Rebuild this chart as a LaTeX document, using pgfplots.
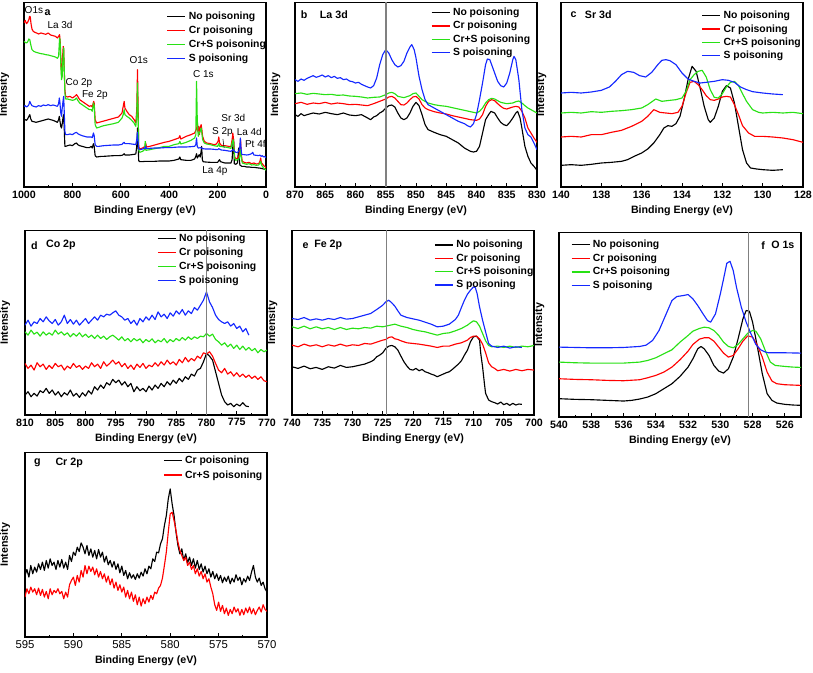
\documentclass[border=0pt]{standalone}
\usepackage{pgfplots}
\pgfplotsset{compat=1.18}
\usepackage{fontspec}
\setmainfont{Liberation Sans}
\definecolor{cblack}{RGB}{0,0,0}
\definecolor{cred}{RGB}{255,0,0}
\definecolor{cgreen}{RGB}{40,225,20}
\definecolor{cblue}{RGB}{20,40,255}
\definecolor{cgray}{RGB}{128,128,128}
\newcommand{\fb}{\bfseries\fontsize{8}{9}\selectfont}
\newcommand{\fl}{\bfseries\fontsize{7.8}{9}\selectfont}
\newcommand{\fr}{\fontsize{7.5}{8}\selectfont}
\newcommand{\ft}{\bfseries\fontsize{8}{9}\selectfont}
\tikzset{tl/.style={font=\ft, anchor=west, inner sep=0pt}}
\pgfplotsset{
  xps/.style={
    scale only axis, width=181.5pt, height=138.5pt,
    x dir=reverse, y dir=reverse,
    ytick=\empty, xtick pos=left, tick align=inside,
    minor x tick num=1, major tick length=3pt, minor tick length=1.6pt,
    every tick/.style={black, line width=0.6pt},
    axis line style={line width=0.8pt},
    /pgf/number format/assume math mode=true,
    /pgf/number format/1000 sep={},
    scaled x ticks=false,
    xticklabel style={font=\fb, inner sep=1pt, yshift=-1.5pt},
    xlabel={Binding Energy (eV)}, ylabel={Intensity},
    label style={font=\fb},
    xlabel style={at={(axis description cs:0.5,0)}, anchor=north, yshift=-14pt, inner sep=0pt},
    ylabel style={at={(axis description cs:-0.06,0.5)}, anchor=south, inner sep=0pt},
    legend image code/.code={\draw[#1,line width=1pt] (0pt,0pt) -- (13.5pt,0pt);},
    legend style={draw=none, fill=none, anchor=north west, inner sep=0pt, outer sep=0pt,
      legend cell align=left, row sep=2pt,
      nodes={font=\fl, inner xsep=2pt, inner ysep=0pt, text height=6.5pt, text depth=2pt}},
    every axis plot/.append style={line width=0.85pt, mark=none, line join=round},
  }
}
\begin{document}
\begin{tikzpicture}[x=0.75pt,y=0.75pt]
\useasboundingbox (0,0) rectangle (813,672);
% ---------------- panel a
\begin{axis}[xps, at={(18pt,363.75pt)}, anchor=south west, xmin=0, xmax=1000, ymin=8, ymax=562,
  xtick={0,200,400,600,800,1000}, minor x tick num=1,
  legend style={at={(axis description cs:0.59,0.955)}, row sep=2pt}]
\addplot[cblack] coordinates {(1000,362)(995,360)(990,362)(985,358)(980,350)(976,345)(972,358)(967,365)(960,366)(950,368)(940,366)(930,364)(920,362)(910,360)(900,358)(890,360)(880,362)(870,365)(862,368)(857,360)(854,350)(852,362)(848,380)(845,385)(842,372)(838,350)(836,345)(834,380)(831,440)(828,440)(820,438)(810,436)(800,438)(790,432)(783,430)(778,435)(770,438)(760,440)(750,442)(740,444)(730,444)(722,440)(718,445)(713,432)(710,440)(706,468)(700,472)(690,471)(680,470)(670,470)(650,469)(630,468)(610,468)(595,467)(590,465)(586,462)(583,466)(575,466)(565,466)(555,465)(545,464)(538,463)(534,440)(531,385)(529,420)(526,483)(522,486)(510,486)(500,485)(480,485)(460,485)(440,484)(420,484)(400,484)(380,482)(360,478)(356,472)(352,480)(330,482)(310,482)(295,478)(290,470)(287,462)(284,475)(280,470)(276,465)(272,472)(268,455)(266,440)(263,480)(260,486)(250,487)(230,488)(215,488)(200,488)(192,480)(188,486)(170,490)(155,490)(145,490)(140,480)(135,415)(133,430)(131,492)(125,494)(118,490)(113,445)(111,470)(108,496)(100,500)(90,500)(80,502)(70,502)(60,503)(50,503)(40,504)(30,505)(20,506)(10,508)(0,510)};
\addlegendentry{No poisoning}
\addplot[cred] coordinates {(1000,70)(995,62)(990,72)(985,68)(980,60)(977,50)(974,52)(971,72)(967,88)(962,95)(955,98)(948,100)(940,103)(930,100)(920,102)(910,104)(900,100)(890,106)(880,108)(870,110)(862,115)(857,110)(853,105)(850,130)(847,200)(844,230)(841,180)(838,140)(836,150)(834,200)(831,270)(828,290)(820,292)(810,290)(800,295)(790,290)(783,285)(778,290)(770,300)(760,305)(750,310)(740,315)(730,320)(722,318)(718,322)(712,305)(710,310)(706,360)(700,370)(690,368)(680,366)(670,364)(650,360)(630,356)(610,352)(595,340)(590,320)(586,305)(583,325)(575,335)(565,345)(555,350)(545,360)(538,370)(534,330)(531,210)(529,300)(526,440)(522,448)(510,445)(500,440)(497,430)(494,442)(480,440)(460,436)(440,432)(420,428)(400,425)(380,420)(360,415)(356,408)(352,418)(330,410)(310,405)(295,400)(290,392)(286,385)(284,360)(282,395)(278,380)(275,405)(272,385)(268,375)(265,390)(262,410)(255,425)(245,430)(230,432)(215,435)(205,433)(198,425)(195,412)(192,430)(185,437)(170,438)(155,440)(145,441)(140,420)(137,400)(134,420)(130,470)(125,478)(118,475)(112,470)(108,450)(105,420)(102,465)(98,485)(90,488)(80,490)(70,488)(60,492)(50,490)(40,493)(30,492)(25,485)(22,475)(19,490)(15,492)(10,498)(5,500)(0,505)};
\addlegendentry{Cr poisoning}
\addplot[cgreen] coordinates {(1000,125)(995,128)(990,130)(985,127)(980,118)(976,120)(972,135)(967,150)(960,155)(950,158)(940,160)(930,162)(920,163)(910,165)(900,166)(890,168)(880,170)(870,172)(862,176)(857,170)(853,115)(851,120)(848,190)(845,240)(842,230)(839,175)(836,145)(834,200)(831,280)(828,298)(820,298)(810,300)(800,302)(790,300)(783,295)(778,302)(770,310)(760,315)(750,320)(740,325)(730,330)(722,330)(718,335)(713,310)(710,318)(706,375)(700,385)(690,383)(680,380)(670,378)(650,375)(630,372)(610,368)(595,355)(590,345)(586,330)(583,345)(575,350)(565,355)(555,362)(545,370)(538,380)(534,350)(531,250)(529,320)(526,450)(522,458)(510,455)(502,450)(499,425)(496,452)(480,450)(460,447)(440,444)(420,440)(400,440)(380,435)(360,432)(356,425)(352,433)(330,428)(310,422)(295,415)(290,405)(287,245)(284,360)(280,410)(276,400)(272,395)(268,385)(265,400)(262,420)(255,430)(245,433)(230,435)(215,438)(200,440)(195,432)(192,440)(170,442)(155,444)(145,446)(140,430)(136,420)(133,440)(130,475)(125,482)(118,480)(112,478)(108,468)(105,450)(102,475)(98,490)(90,492)(80,494)(70,492)(60,496)(50,495)(40,497)(30,496)(25,490)(22,485)(19,495)(15,500)(10,505)(5,508)(0,512)};
\addlegendentry{Cr+S poisoning}
\addplot[cblue] coordinates {(1000,320)(995,318)(990,322)(985,320)(980,315)(976,305)(972,312)(967,318)(960,320)(950,322)(940,318)(930,320)(920,316)(910,318)(900,315)(890,318)(880,316)(870,318)(862,320)(857,312)(854,295)(852,305)(848,340)(845,350)(842,325)(838,300)(836,290)(834,330)(831,395)(828,405)(820,405)(810,403)(800,405)(790,400)(783,398)(778,402)(770,405)(760,408)(750,410)(740,412)(730,412)(722,412)(718,414)(713,400)(710,408)(706,435)(700,440)(690,440)(680,439)(670,438)(650,437)(630,436)(610,436)(595,434)(590,430)(586,428)(583,432)(575,432)(565,432)(555,433)(545,434)(538,435)(534,420)(531,398)(529,420)(526,448)(522,450)(510,448)(500,446)(497,440)(494,447)(480,446)(460,445)(440,445)(420,444)(400,444)(380,443)(360,442)(330,442)(310,441)(295,440)(290,435)(287,415)(284,440)(280,445)(270,444)(260,447)(250,448)(230,448)(215,449)(200,450)(195,447)(185,451)(170,452)(155,454)(145,455)(140,452)(135,450)(130,455)(125,458)(118,458)(112,455)(108,440)(106,415)(104,440)(101,462)(98,465)(90,465)(80,466)(70,465)(60,462)(55,458)(50,466)(40,467)(30,468)(25,466)(20,470)(15,468)(10,472)(5,470)(0,475)};
\addlegendentry{S poisoning}
\node[font=\fr] at (axis cs:959,30) {O1s};
\node[font=\ft] at (axis cs:902,38) {a};
\node[font=\fr] at (axis cs:851,75) {La 3d};
\node[font=\fr] at (axis cs:773,250) {Co 2p};
\node[font=\fr] at (axis cs:707,285) {Fe 2p};
\node[font=\fr] at (axis cs:526,182) {O1s};
\node[font=\fr] at (axis cs:259,222) {C 1s};
\node[font=\fr] at (axis cs:135,355) {Sr 3d};
\node[font=\fr] at (axis cs:180,398) {S 2p};
\node[font=\fr] at (axis cs:69,398) {La 4d};
\node[font=\fr] at (axis cs:44,432) {Pt 4f};
\node[font=\fr] at (axis cs:211,515) {La 4p};
\draw[line width=0.4pt] (axis cs:178,418) -- (axis cs:173,445);
\end{axis}
% ---------------- panel b
\begin{axis}[xps, at={(221.25pt,363.75pt)}, anchor=south west, xmin=830, xmax=870, ymin=8, ymax=562,
  xtick={830,835,...,870},
  legend style={at={(axis description cs:0.562,0.975)}, row sep=1.5pt}]
\addplot[cblack] coordinates {(870,345)(869.5,350)(869,342)(868.5,348)(868,345)(867,340)(866,343)(865,338)(864,342)(863,345)(862,340)(861,346)(860,348)(859,345)(858,355)(857.5,360)(857,352)(856.5,348)(856,340)(855.5,335)(855,325)(854.5,318)(854,316)(853.5,322)(853,340)(852.5,355)(852,360)(851.5,355)(851,340)(850.5,320)(850,308)(849.5,318)(849,345)(848.5,375)(848,390)(847,398)(846,405)(845,410)(844,420)(843,430)(842,445)(841.5,450)(841,455)(840.5,457)(840,455)(839.5,440)(839,400)(838.5,360)(838,345)(837.6,335)(837,340)(836.5,355)(836,368)(835.5,375)(835,378)(834.5,368)(834,355)(833.5,340)(833.2,335)(832.8,355)(832.5,385)(832,440)(831.5,470)(831,490)(830.5,500)(830,512)};
\addlegendentry{No poisoning}
\addplot[cred] coordinates {(870,312)(869,308)(868,314)(867,310)(866,312)(865,308)(864,313)(863,310)(862,312)(861,315)(860,314)(859,316)(858,318)(857,312)(856,305)(855,298)(854.5,292)(854,290)(853.5,295)(853,305)(852.5,315)(852,316)(851.5,310)(851,300)(850.5,292)(850,290)(849.5,298)(849,315)(848.5,325)(848,330)(847,336)(846,340)(845,343)(844,348)(843,352)(842,356)(841,360)(840,362)(839.5,358)(839,345)(838.5,320)(838,305)(837.5,300)(837,303)(836.5,312)(836,320)(835.5,326)(835,328)(834.5,325)(834,322)(833.5,320)(833,322)(832.5,335)(832,355)(831.5,385)(831,400)(830.5,415)(830,428)};
\addlegendentry{Cr poisoning}
\addplot[cgreen] coordinates {(870,282)(869,280)(868,284)(867,281)(866,283)(865,285)(864,284)(863,287)(862,286)(861,289)(860,290)(859,292)(858,295)(857,293)(856,292)(855,285)(854.5,280)(854,278)(853.5,282)(853,290)(852,294)(851,288)(850.5,282)(850,280)(849.5,290)(849,300)(848,310)(847,315)(846,318)(845,320)(844,324)(843,328)(842,332)(841,336)(840,340)(839.5,335)(839,325)(838.5,310)(838,300)(837.5,296)(837,298)(836.5,303)(836,308)(835,312)(834,310)(833.5,306)(833,304)(832.5,310)(832,318)(831.5,325)(831,330)(830.5,335)(830,340)};
\addlegendentry{Cr+S poisoning}
\addplot[cblue] coordinates {(870,240)(869.5,245)(869,238)(868.5,242)(868,236)(867.5,232)(867,228)(866.5,233)(866,230)(865.5,226)(865,232)(864.5,228)(864,234)(863.5,230)(863,236)(862.5,234)(862,240)(861.5,238)(861,244)(860.5,246)(860,250)(859.5,248)(859,254)(858.5,258)(858,262)(857.5,265)(857,258)(856.5,235)(856,195)(855.5,165)(855,150)(854.5,160)(854,180)(853.5,195)(853,202)(852.5,198)(852,185)(851.5,160)(851,142)(850.7,135)(850.3,150)(850,175)(849.5,230)(849,270)(848.5,300)(848,315)(847,325)(846,335)(845,345)(844,355)(843,365)(842,372)(841.5,378)(841,382)(840.5,372)(840,345)(839.5,300)(839,250)(838.5,195)(838.2,178)(837.8,180)(837.5,195)(837,220)(836.5,245)(836,258)(835.5,262)(835,250)(834.5,220)(834,180)(833.8,170)(833.5,180)(833,240)(832.5,330)(832,385)(831.5,405)(831,412)(830.5,430)(830,450)};
\addlegendentry{S poisoning}
\addplot[cgray, line width=1.3pt, forget plot] coordinates {(855,8)(855,562)};
\node[tl] at (axis description cs:0.023,0.933) {b};
\node[tl] at (axis description cs:0.102,0.933) {La 3d};
\end{axis}
% ---------------- panel c
\begin{axis}[xps, at={(420.75pt,363.75pt)}, anchor=south west, xmin=128, xmax=140, ymin=8, ymax=562,
  xtick={128,130,...,140},
  legend style={at={(axis description cs:0.581,0.958)}, row sep=1.5pt}]
\addplot[cblack] coordinates {(140,497)(139.5,495)(139,497)(138.5,494)(138,490)(137.5,488)(137,485)(136.7,480)(136.3,468)(136,460)(135.7,448)(135.4,430)(135.1,405)(134.9,385)(134.7,378)(134.5,380)(134.3,372)(134.1,350)(133.9,300)(133.7,240)(133.5,200)(133.3,215)(133.1,265)(132.9,320)(132.7,360)(132.6,368)(132.4,355)(132.2,320)(132,275)(131.8,258)(131.6,265)(131.4,310)(131.2,380)(131,450)(130.8,490)(130.6,505)(130.3,508)(130,510)(129.5,512)(129,510)};
\addlegendentry{No poisoning}
\addplot[cred] coordinates {(140,412)(139.5,410)(139,412)(138.5,405)(138,405)(137.5,398)(137,392)(136.5,380)(136,365)(135.7,350)(135.4,330)(135.1,338)(134.8,340)(134.5,342)(134.2,338)(134,320)(133.8,280)(133.6,248)(133.4,245)(133.2,255)(133,270)(132.8,288)(132.6,300)(132.4,302)(132.2,298)(132,292)(131.8,290)(131.6,292)(131.4,315)(131.2,345)(131,378)(130.7,400)(130.4,410)(130,410)(129.5,412)(129,415)(128.5,420)(128,428)};
\addlegendentry{Cr poisoning}
\addplot[cgreen] coordinates {(140,340)(139.5,338)(139,340)(138.5,336)(138,338)(137.5,335)(137,333)(136.5,330)(136,325)(135.7,315)(135.3,298)(135,305)(134.6,302)(134.3,300)(134,295)(133.8,275)(133.6,240)(133.4,225)(133.2,215)(133,212)(132.8,232)(132.6,270)(132.4,293)(132.2,295)(132,282)(131.8,262)(131.6,248)(131.4,245)(131.2,258)(131,282)(130.8,305)(130.5,330)(130.2,338)(130,340)(129.5,338)(129,340)(128.5,338)(128,342)};
\addlegendentry{Cr+S poisoning}
\addplot[cblue] coordinates {(140,280)(139.5,278)(139,280)(138.5,277)(138,272)(137.6,262)(137.3,245)(137,225)(136.7,215)(136.4,218)(136.1,228)(135.8,232)(135.5,218)(135.2,195)(135,182)(134.8,180)(134.6,183)(134.3,195)(134,220)(133.7,238)(133.4,245)(133.1,250)(132.8,248)(132.4,245)(132,240)(131.7,242)(131.4,248)(131.1,262)(130.8,270)(130.5,276)(130,280)(129.5,283)(129,285)};
\addlegendentry{S poisoning}
\node[tl] at (axis description cs:0.039,0.933) {c};
\node[tl] at (axis description cs:0.098,0.933) {Sr 3d};
\end{axis}
% ---------------- panel d
\begin{axis}[xps, at={(18.75pt,192.75pt)}, anchor=south west, xmin=770, xmax=810, ymin=30, ymax=585,
  xtick={770,775,...,810},
  legend style={at={(axis description cs:0.546,0.985)}, row sep=2pt}]
\addplot[cblack] coordinates {(810,525)(809.5,515)(809,530)(808.5,520)(808,528)(807.5,512)(807,518)(806.5,505)(806,520)(805.5,510)(805,525)(804.5,515)(804,530)(803.5,518)(803,525)(802.5,510)(802,528)(801.5,520)(801,532)(800.5,518)(800,528)(799.5,512)(799,522)(798.5,500)(798,510)(797.5,495)(797,505)(796.5,488)(796,495)(795.5,478)(795,488)(794.5,480)(794,495)(793.5,485)(793,500)(792.5,490)(792,515)(791.5,500)(791,512)(790.5,505)(790,515)(789.5,498)(789,510)(788.5,495)(788,505)(787.5,490)(787,500)(786.5,485)(786,495)(785.5,480)(785,490)(784.5,475)(784,485)(783.5,470)(783,478)(782.5,462)(782,468)(781.5,450)(781,445)(780.5,425)(780,400)(779.5,408)(779,420)(778.5,455)(778,490)(777.5,525)(777,545)(776.5,555)(776,550)(775.5,560)(775,552)(774.5,558)(774,548)(773.5,558)(773,560)};
\addlegendentry{No poisoning}
\addplot[cred] coordinates {(810,430)(809.5,445)(809,435)(808.5,450)(808,428)(807.5,440)(807,432)(806.5,448)(806,436)(805.5,445)(805,430)(804.5,440)(804,435)(803.5,450)(803,438)(802.5,445)(802,430)(801.5,442)(801,436)(800.5,448)(800,438)(799.5,445)(799,428)(798.5,440)(798,432)(797.5,445)(797,425)(796.5,438)(796,430)(795.5,420)(795,432)(794.5,425)(794,440)(793.5,430)(793,445)(792.5,435)(792,448)(791.5,432)(791,442)(790.5,430)(790,445)(789.5,435)(789,440)(788.5,428)(788,438)(787.5,425)(787,435)(786.5,420)(786,432)(785.5,425)(785,435)(784.5,418)(784,428)(783.5,412)(783,425)(782.5,415)(782,422)(781.5,408)(781,415)(780.5,398)(780,402)(779.5,395)(779,408)(778.5,430)(778,450)(777.5,458)(777,445)(776.5,462)(776,455)(775.5,468)(775,458)(774.5,470)(774,462)(773.5,472)(773,465)(772.5,475)(772,468)(771.5,478)(771,470)(770.5,482)(770,485)};
\addlegendentry{Cr poisoning}
\addplot[cgreen] coordinates {(810,335)(809.5,345)(809,330)(808.5,342)(808,336)(807.5,348)(807,335)(806.5,345)(806,338)(805.5,345)(805,330)(804.5,342)(804,335)(803.5,345)(803,338)(802.5,350)(802,340)(801.5,348)(801,338)(800.5,350)(800,342)(799.5,352)(799,345)(798.5,355)(798,345)(797.5,355)(797,348)(796.5,358)(796,350)(795.5,345)(795,352)(794.5,360)(794,350)(793.5,362)(793,355)(792.5,365)(792,355)(791.5,362)(791,356)(790.5,368)(790,358)(789.5,365)(789,356)(788.5,368)(788,360)(787.5,365)(787,355)(786.5,368)(786,358)(785.5,365)(785,355)(784.5,362)(784,352)(783.5,360)(783,350)(782.5,358)(782,350)(781.5,355)(781,348)(780.5,350)(780,340)(779.5,348)(779,342)(778.5,358)(778,365)(777.5,375)(777,368)(776.5,380)(776,372)(775.5,385)(775,375)(774.5,388)(774,378)(773.5,390)(773,382)(772.5,392)(772,385)(771.5,398)(771,388)(770.5,395)(770,390)};
\addlegendentry{Cr+S poisoning}
\addplot[cblue] coordinates {(810,315)(809.5,300)(809,318)(808.5,305)(808,310)(807.5,295)(807,305)(806.5,290)(806,302)(805.5,310)(805,298)(804.5,315)(804,305)(803.5,285)(803,310)(802.5,298)(802,312)(801.5,300)(801,315)(800.5,305)(800,295)(799.5,310)(799,300)(798.5,290)(798,300)(797.5,285)(797,290)(796.5,282)(796,285)(795.5,278)(795,272)(794.5,285)(794,290)(793.5,300)(793,295)(792.5,310)(792,300)(791.5,315)(791,295)(790.5,305)(790,290)(789.5,300)(789,285)(788.5,298)(788,275)(787.5,290)(787,282)(786.5,295)(786,278)(785.5,288)(785,272)(784.5,282)(784,268)(783.5,285)(783,272)(782.5,280)(782,262)(781.5,270)(781,255)(780.5,240)(780,215)(779.5,245)(779,262)(778.5,285)(778,298)(777.5,305)(777,310)(776.5,305)(776,318)(775.5,310)(775,325)(774.5,318)(774,335)(773.5,325)(773,345)};
\addlegendentry{S poisoning}
\addplot[cgray, line width=1.3pt, forget plot] coordinates {(780,30)(780,585)};
\node[tl] at (axis description cs:0.024,0.919) {d};
\node[tl] at (axis description cs:0.086,0.919) {Co 2p};
\end{axis}
% ---------------- panel e
\begin{axis}[xps, at={(219pt,192.75pt)}, anchor=south west, xmin=700, xmax=740, ymin=30, ymax=585,
  xtick={700,705,...,740},
  legend style={at={(axis description cs:0.588,0.952)}, row sep=1.5pt}]
\addplot[cblack] coordinates {(740,440)(739,445)(738,438)(737,446)(736,442)(735,448)(734,440)(733,444)(732,436)(731,442)(730,440)(729,436)(728,432)(727,425)(726.5,420)(726,410)(725.5,405)(725,398)(724.5,385)(724,378)(723.5,376)(723,380)(722.5,390)(722,408)(721.5,425)(721,438)(720.5,448)(720,450)(719.5,445)(719,452)(718.5,448)(718,455)(717.5,458)(717,462)(716.5,465)(716,470)(715.5,466)(715,462)(714.5,458)(714,455)(713.5,448)(713,440)(712.5,432)(712,422)(711.5,405)(711,390)(710.5,365)(710,350)(709.5,348)(709,360)(708.8,400)(708.5,440)(708.2,490)(708,520)(707.5,540)(707,545)(706.5,548)(706,552)(705.5,546)(705,554)(704.5,550)(704,556)(703.5,550)(703,555)(702.5,552)(702,553)};
\addlegendentry{No poisoning}
\addplot[cred] coordinates {(740,375)(739,380)(738,372)(737,378)(736,374)(735,380)(734,374)(733,378)(732,372)(731,378)(730,374)(729,376)(728,370)(727,372)(726,366)(725,360)(724.5,358)(724,352)(723.5,350)(723,356)(722.5,358)(722,362)(721,368)(720,370)(719,372)(718,375)(717,378)(716,382)(715,378)(714,378)(713,372)(712,368)(711,360)(710.5,352)(710,348)(709.5,348)(709,356)(708.5,372)(708,398)(707.5,428)(707,440)(706.5,445)(706,452)(705,448)(704,453)(703,448)(702,452)(701,448)(700,450)};
\addlegendentry{Cr poisoning}
\addplot[cgreen] coordinates {(740,320)(739,325)(738,318)(737,326)(736,320)(735,326)(734,322)(733,328)(732,322)(731,328)(730,324)(729,326)(728,322)(727,324)(726,318)(725,320)(724,316)(723,312)(722,318)(721,322)(720,328)(719,332)(718,335)(717,340)(716,345)(715,340)(714,338)(713,332)(712,325)(711,315)(710.5,308)(710,302)(709.5,305)(709,318)(708.5,340)(708,362)(707.5,376)(707,380)(706,378)(705,382)(704,378)(703,382)(702,378)(701,380)(700,376)};
\addlegendentry{Cr+S poisoning}
\addplot[cblue] coordinates {(740,295)(739,298)(738,292)(737,300)(736,296)(735,300)(734,295)(733,298)(732,292)(731,297)(730,295)(729,290)(728,285)(727,280)(726,268)(725,255)(724.5,245)(724,240)(723.5,248)(723,258)(722.5,272)(722,285)(721,292)(720,296)(719,300)(718,306)(717,312)(716,320)(715,318)(714,312)(713,298)(712.5,285)(712,262)(711.5,240)(711,222)(710.5,210)(710,200)(709.7,202)(709.4,220)(709,260)(708.5,300)(708,335)(707.5,370)(707,378)(706,382)(705,378)(704,384)(703,380)(702,382)};
\addlegendentry{S poisoning}
\addplot[cgray, line width=1.3pt, forget plot] coordinates {(724.4,30)(724.4,585)};
\node[tl] at (axis description cs:0.043,0.919) {e};
\node[tl] at (axis description cs:0.091,0.919) {Fe 2p};
\end{axis}
% ---------------- panel f
\begin{axis}[xps, at={(419.25pt,191.25pt)}, anchor=south west, xmin=525, xmax=540, ymin=35, ymax=590,
  xtick={526,528,...,540},
  legend style={at={(axis description cs:0.049,0.965)}, row sep=1.8pt}]
\addplot[cblack] coordinates {(540,535)(539,537)(538,538)(537,540)(536,542)(535.5,540)(535,536)(534.5,530)(534,520)(533.5,505)(533,490)(532.5,468)(532,440)(531.7,415)(531.4,385)(531.2,378)(531,385)(530.7,405)(530.4,435)(530.1,452)(529.8,458)(529.5,445)(529.2,410)(528.9,355)(528.6,295)(528.4,270)(528.2,272)(528,305)(527.7,380)(527.4,460)(527.1,520)(526.8,540)(526.5,548)(526,552)(525.5,554)(525,555)};
\addlegendentry{No poisoning}
\addplot[cred] coordinates {(540,475)(539,477)(538,478)(537,480)(536,481)(535,478)(534.5,472)(534,465)(533.5,455)(533,440)(532.5,418)(532,392)(531.7,372)(531.3,356)(531,352)(530.7,352)(530.4,362)(530.1,380)(529.8,398)(529.5,410)(529.2,405)(528.9,385)(528.6,362)(528.3,346)(528,350)(527.7,375)(527.4,410)(527.1,455)(526.8,482)(526.5,490)(526,493)(525.5,494)(525,495)};
\addlegendentry{Cr poisoning}
\addplot[cgreen] coordinates {(540,425)(539,427)(538,428)(537,428)(536,428)(535,425)(534.5,420)(534,412)(533.5,400)(533,388)(532.5,365)(532,345)(531.7,332)(531.3,324)(531,320)(530.7,322)(530.4,330)(530.1,345)(529.8,365)(529.5,378)(529.2,382)(528.9,372)(528.6,355)(528.3,338)(528,330)(527.8,332)(527.5,355)(527.2,392)(526.9,425)(526.6,435)(526,438)(525.5,440)(525,441)};
\addlegendentry{Cr+S poisoning}
\addplot[cblue] coordinates {(540,380)(539,381)(538,382)(537,382)(536,381)(535,378)(534.6,374)(534.2,360)(533.8,330)(533.4,285)(533,240)(532.7,228)(532.3,225)(532,222)(531.7,235)(531.4,255)(531.1,278)(530.8,300)(530.6,305)(530.3,280)(530,220)(529.8,175)(529.6,128)(529.4,122)(529.2,150)(529,200)(528.7,260)(528.4,305)(528.1,340)(527.8,372)(527.5,388)(527.2,395)(527,397)(526,397)(525,398)};
\addlegendentry{S poisoning}
\addplot[cgray, line width=1.3pt, forget plot] coordinates {(528.25,35)(528.25,590)};
\node[tl] at (axis description cs:0.835,0.93) {f};
\node[tl] at (axis description cs:0.876,0.93) {O 1s};
\end{axis}
% ---------------- panel g
\begin{axis}[xps, at={(18.75pt,26.25pt)}, anchor=south west, xmin=570, xmax=595, ymin=20, ymax=575,
  xtick={570,575,...,595}, xticklabel style={font=\fontsize{8.5}{9}\selectfont},
  legend style={at={(axis description cs:0.571,0.985)}, row sep=2.2pt}]
\addplot[cblack] coordinates {(595,390)(594.8,372)(594.6,395)(594.4,360)(594.2,385)(594,365)(593.8,380)(593.6,355)(593.4,372)(593.2,350)(593,375)(592.8,345)(592.6,368)(592.4,340)(592.2,360)(592,350)(591.8,372)(591.6,345)(591.4,365)(591.2,342)(591,368)(590.8,350)(590.6,372)(590.4,330)(590.2,348)(590,320)(589.8,330)(589.6,305)(589.4,318)(589.2,292)(589,305)(588.8,325)(588.6,300)(588.4,330)(588.2,310)(588,335)(587.8,315)(587.6,340)(587.4,312)(587.2,335)(587,320)(586.8,350)(586.6,332)(586.4,358)(586.2,345)(586,365)(585.8,348)(585.6,372)(585.4,355)(585.2,382)(585,362)(584.8,390)(584.6,375)(584.4,400)(584.2,382)(584,398)(583.8,388)(583.6,402)(583.4,385)(583.2,398)(583,380)(582.8,392)(582.6,370)(582.4,385)(582.2,362)(582,370)(581.8,340)(581.6,348)(581.4,320)(581.2,322)(581,295)(580.8,280)(580.6,240)(580.4,210)(580.2,160)(580,130)(579.8,175)(579.6,210)(579.4,260)(579.2,300)(579,325)(578.8,310)(578.6,345)(578.4,325)(578.2,352)(578,335)(577.8,360)(577.6,340)(577.4,368)(577.2,345)(577,372)(576.8,355)(576.6,380)(576.4,362)(576.2,385)(576,370)(575.8,395)(575.6,378)(575.4,400)(575.2,385)(575,405)(574.8,390)(574.6,412)(574.4,395)(574.2,408)(574,392)(573.8,415)(573.6,398)(573.4,410)(573.2,388)(573,405)(572.8,395)(572.6,418)(572.4,400)(572.2,410)(572,392)(571.8,405)(571.6,380)(571.4,360)(571.2,395)(571,410)(570.8,398)(570.6,420)(570.4,410)(570.2,430)(570,440)};
\addlegendentry{Cr poisoning}
\addplot[cred] coordinates {(595,455)(594.8,430)(594.6,445)(594.4,425)(594.2,440)(594,430)(593.8,448)(593.6,428)(593.4,450)(593.2,432)(593,455)(592.8,438)(592.6,460)(592.4,430)(592.2,448)(592,435)(591.8,442)(591.6,430)(591.4,445)(591.2,438)(591,460)(590.8,440)(590.6,455)(590.4,418)(590.2,405)(590,395)(589.8,420)(589.6,390)(589.4,410)(589.2,375)(589,395)(588.8,360)(588.6,385)(588.4,362)(588.2,378)(588,365)(587.8,388)(587.6,370)(587.4,395)(587.2,378)(587,400)(586.8,385)(586.6,410)(586.4,392)(586.2,418)(586,400)(585.8,428)(585.6,410)(585.4,435)(585.2,418)(585,440)(584.8,425)(584.6,455)(584.4,435)(584.2,460)(584,440)(583.8,468)(583.6,448)(583.4,478)(583.2,455)(583,482)(582.8,460)(582.6,475)(582.4,455)(582.2,470)(582,450)(581.8,462)(581.6,440)(581.4,445)(581.2,428)(581,420)(580.8,398)(580.6,360)(580.4,320)(580.2,260)(580,205)(579.8,200)(579.6,225)(579.4,255)(579.2,290)(579,315)(578.8,330)(578.6,345)(578.4,335)(578.2,360)(578,350)(577.8,372)(577.6,360)(577.4,385)(577.2,370)(577,392)(576.8,378)(576.6,400)(576.4,385)(576.2,410)(576,400)(575.8,425)(575.6,445)(575.4,478)(575.2,495)(575,470)(574.8,498)(574.6,480)(574.4,505)(574.2,488)(574,510)(573.8,492)(573.6,505)(573.4,485)(573.2,500)(573,490)(572.8,510)(572.6,492)(572.4,508)(572.2,488)(572,502)(571.8,485)(571.6,505)(571.4,490)(571.2,508)(571,495)(570.8,485)(570.6,500)(570.4,478)(570.2,492)(570,498)};
\addlegendentry{Cr+S poisoning}
\node[tl] at (axis description cs:0.037,0.942) {g};
\node[tl] at (axis description cs:0.125,0.942) {Cr 2p};
\end{axis}
\end{tikzpicture}
\end{document}
